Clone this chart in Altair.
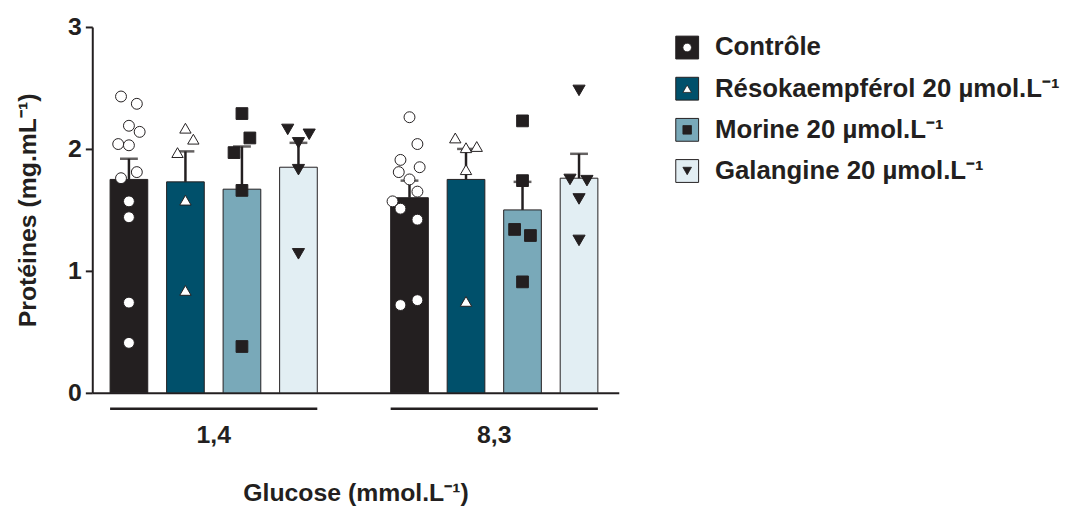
import altair as alt
import pandas as pd

# ---------------- data ----------------
groups = ["1,4", "8,3"]
treatments = [
    "Contrôle",
    "Résokaempférol 20 µmol.L⁻¹",
    "Morine 20 µmol.L⁻¹",
    "Galangine 20 µmol.L⁻¹",
]
bar_colors = ["#231f20", "#00506b", "#79a9b9", "#e2eef3"]
point_shapes = ["circle", "triangle-up", "square", "triangle-down"]
point_fills = ["#ffffff", "#ffffff", "#231f20", "#231f20"]
point_sizes = [121, 150, 121, 160]

means_14 = [1.75, 1.73, 1.67, 1.85]
upper_14 = [1.92, 1.98, 2.02, 2.05]
means_83 = [1.60, 1.75, 1.50, 1.76]
upper_83 = [1.74, 2.00, 1.73, 1.96]

# individual values (and horizontal jitter, in bar-step units)
ctrl_14 = [2.43, 2.37, 2.19, 2.14, 2.04, 2.03, 1.81, 1.76, 1.57, 1.44, 0.74, 0.41]
ctrl_14_jit = [-0.14, 0.14, 0.0, 0.19, -0.19, 0.0, 0.14, -0.14, 0.0, 0.0, 0.0, 0.0]
reso_14 = [2.17, 2.08, 1.97, 1.58, 0.84]
reso_14_jit = [0.0, 0.14, -0.14, 0.0, 0.0]
mori_14 = [2.29, 2.09, 1.97, 1.66, 0.38]
mori_14_jit = [0.0, 0.14, -0.14, 0.0, 0.0]
gala_14 = [2.16, 2.12, 2.05, 1.83, 1.14]
gala_14_jit = [-0.19, 0.19, 0.0, 0.0, 0.0]

ctrl_83 = [2.26, 2.04, 1.91, 1.85, 1.81, 1.75, 1.65, 1.57, 1.51, 1.42, 0.76, 0.72]
ctrl_83_jit = [0.0, 0.14, -0.16, 0.18, -0.19, 0.0, 0.14, -0.3, -0.16, 0.14, 0.14, -0.16]
reso_83 = [2.09, 2.02, 2.01, 1.83, 0.75]
reso_83_jit = [-0.19, 0.19, 0.0, 0.0, 0.0]
mori_83 = [2.23, 1.74, 1.34, 1.29, 0.91]
mori_83_jit = [0.0, 0.0, -0.14, 0.14, 0.0]
gala_83 = [2.48, 1.75, 1.74, 1.59, 1.25]
gala_83_jit = [0.0, -0.16, 0.14, 0.0, 0.0]

# ---------------- tables ----------------
bar_rows = []
for g, means, uppers in [(groups[0], means_14, upper_14), (groups[1], means_83, upper_83)]:
    for i, t in enumerate(treatments):
        bar_rows.append({"group": g, "treatment": t, "idx": i, "mean": means[i], "upper": uppers[i]})
bars_df = pd.DataFrame(bar_rows)

pt_rows = []
series = [
    (groups[0], [(ctrl_14, ctrl_14_jit), (reso_14, reso_14_jit), (mori_14, mori_14_jit), (gala_14, gala_14_jit)]),
    (groups[1], [(ctrl_83, ctrl_83_jit), (reso_83, reso_83_jit), (mori_83, mori_83_jit), (gala_83, gala_83_jit)]),
]
for g, lists in series:
    for i, (vals, jit) in enumerate(lists):
        for v, j in zip(vals, jit):
            pt_rows.append({"group": g, "treatment": treatments[i], "pos": i + j, "value": v})
pts_df = pd.DataFrame(pt_rows)

groups_df = pd.DataFrame({"group": groups})
legend_df = pd.DataFrame({"treatment": treatments})

# ---------------- styling ----------------
INK = "#231f20"
FONT = "Liberation Sans"
FS = 25
W, H = 531, 369

x_scale = alt.Scale(domain=groups, paddingInner=0.2615, paddingOuter=0.069, align=0.46)
xo_scale = alt.Scale(domain=[-1 / 3, 10 / 3], zero=False, nice=False)
y_scale = alt.Scale(domain=[0, 3], nice=False)
fill_scale = alt.Scale(domain=treatments, range=bar_colors)
pfill_scale = alt.Scale(domain=treatments, range=point_fills)
shape_scale = alt.Scale(domain=treatments, range=point_shapes)
size_scale = alt.Scale(domain=treatments, range=point_sizes)

x_axis = alt.Axis(
    title="Glucose (mmol.L⁻¹)", labelAngle=0, ticks=False, tickSize=0,
    labelPadding=30, titlePadding=34, domainWidth=2, domainColor=INK,
)
y_axis = alt.Axis(
    title="Protéines (mg.mL⁻¹)", values=[0, 1, 2, 3], format="d", grid=False, tickSize=7,
    tickWidth=2, tickColor=INK, domainWidth=2, domainColor=INK, labelPadding=4,
    titlePadding=27,
)

X = alt.X("group:N", sort=groups, scale=x_scale, axis=x_axis)

bars = alt.Chart(bars_df).mark_bar(width=38, stroke=INK, strokeWidth=1).encode(
    x=X,
    xOffset=alt.XOffset("idx:Q", scale=xo_scale),
    y=alt.Y("mean:Q", scale=y_scale, axis=y_axis),
    fill=alt.Fill("treatment:N", scale=fill_scale, legend=None),
)

err = alt.Chart(bars_df).mark_rule(color=INK, strokeWidth=2.5).encode(
    x=X,
    xOffset=alt.XOffset("idx:Q", scale=xo_scale),
    y=alt.Y("mean:Q", scale=y_scale),
    y2="upper:Q",
)

caps = alt.Chart(bars_df).mark_tick(color=INK, thickness=2.5, size=18, orient="horizontal").encode(
    x=X,
    xOffset=alt.XOffset("idx:Q", scale=xo_scale),
    y=alt.Y("upper:Q", scale=y_scale),
)

points = alt.Chart(pts_df).mark_point(filled=True, stroke=INK, strokeWidth=1, opacity=1).encode(
    x=X,
    xOffset=alt.XOffset("pos:Q", scale=xo_scale),
    y=alt.Y("value:Q", scale=y_scale),
    shape=alt.Shape("treatment:N", scale=shape_scale, legend=None),
    fill=alt.Fill("treatment:N", scale=pfill_scale, legend=None),
    size=alt.Size("treatment:N", scale=size_scale, legend=None),
)

underline = alt.Chart(groups_df).mark_rule(color=INK, strokeWidth=2.5).encode(
    x=alt.X("group:N", sort=groups, scale=x_scale, axis=x_axis, bandPosition=0),
    x2=alt.X2("group:N", bandPosition=1),
    y=alt.value(H + 16),
)

main = alt.layer(bars, err, caps, underline, points).resolve_scale(
    fill="independent"
).properties(width=W, height=H)

# ---------------- custom legend ----------------
leg_y = alt.Y("treatment:N", sort=treatments, axis=None)
leg_sq = alt.Chart(legend_df).mark_square(size=530, stroke=INK, strokeWidth=1, opacity=1).encode(
    x=alt.value(12),
    y=leg_y,
    fill=alt.Fill("treatment:N", scale=fill_scale, legend=None),
)
leg_sym = alt.Chart(legend_df).mark_point(filled=True, stroke=INK, strokeWidth=0.8, opacity=1, size=75).encode(
    x=alt.value(12),
    y=leg_y,
    shape=alt.Shape("treatment:N", scale=shape_scale, legend=None),
    fill=alt.Fill("treatment:N", scale=pfill_scale, legend=None),
)
leg_txt = alt.Chart(legend_df).mark_text(
    align="left", baseline="middle", font=FONT, fontSize=26, fontWeight="bold", color=INK
).encode(
    x=alt.value(40),
    y=leg_y,
    text="treatment:N",
)
legend = alt.layer(leg_sq, leg_sym, leg_txt).resolve_scale(fill="independent").properties(
    width=300, height=166
)

chart = alt.hconcat(main, legend, spacing=55).properties(
    padding={"left": 8, "top": 5, "right": 0, "bottom": 0}
).configure_view(stroke=None).configure_axis(
    labelFont=FONT, labelFontSize=FS, labelFontWeight="bold", labelColor=INK,
    titleFont=FONT, titleFontSize=FS, titleFontWeight="bold", titleColor=INK,
)

chart.save("out.html", embed_options={"renderer": "svg", "actions": False})
